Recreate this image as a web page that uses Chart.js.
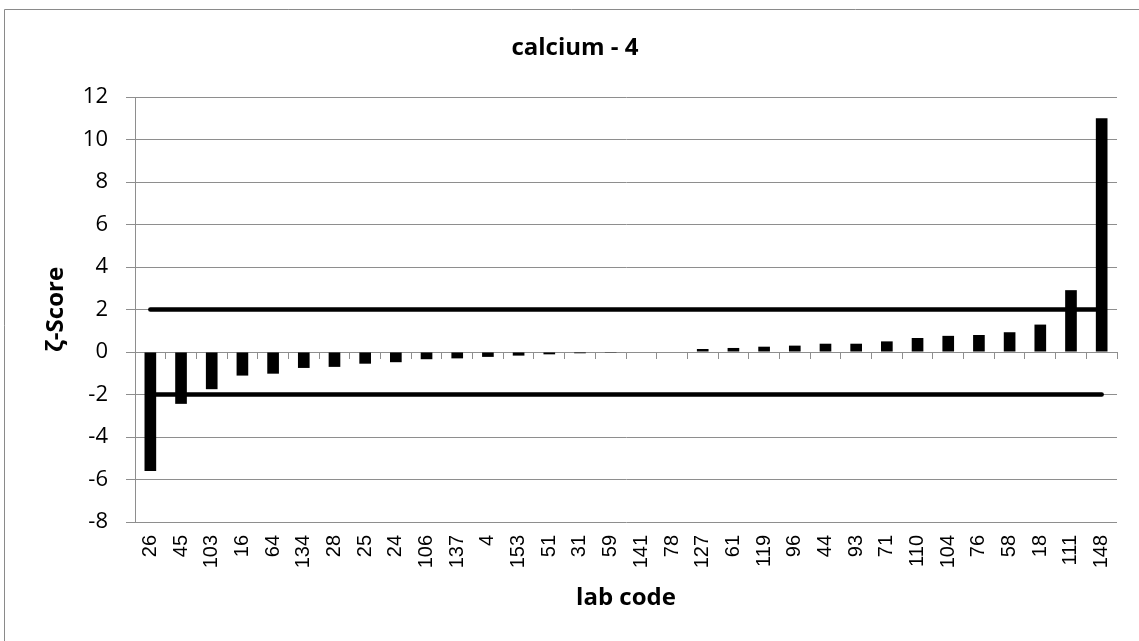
<!DOCTYPE html>
<html>
<head>
<meta charset="utf-8">
<title>calcium - 4</title>
<script src="https://cdn.jsdelivr.net/npm/chart.js@4/dist/chart.umd.min.js"></script>
<style>
    html, body { margin: 0; padding: 0; background: #ffffff; }
    canvas { display: block; }
</style>
</head>
<body>
<canvas id="zetaChart" width="1139" height="641"></canvas>
<script>
    // lab codes, sorted by score
    var labCodes = ["26", "45", "103", "16", "64", "134", "28", "25", "24", "106", "137", "4", "153", "51", "31", "59",
        "141", "78", "127", "61", "119", "96", "44", "93", "71", "110", "104", "76", "58", "18", "111", "148"];
    var zetaScores = [-5.6, -2.44, -1.75, -1.11, -1.02, -0.75, -0.70, -0.55, -0.48, -0.34, -0.30, -0.23, -0.17, -0.11, -0.06, -0.01,
        0, 0, 0.14, 0.19, 0.25, 0.30, 0.39, 0.39, 0.50, 0.66, 0.76, 0.80, 0.93, 1.29, 2.91, 11.0];
    var upperLimit = [2, 2, 2, 2, 2, 2, 2, 2, 2, 2, 2, 2, 2, 2, 2, 2, 2, 2, 2, 2, 2, 2, 2, 2, 2, 2, 2, 2, 2, 2, 2, 2];
    var lowerLimit = [-2, -2, -2, -2, -2, -2, -2, -2, -2, -2, -2, -2, -2, -2, -2, -2, -2, -2, -2, -2, -2, -2, -2, -2, -2, -2, -2, -2, -2, -2, -2, -2];
    var yMin = -8, yMax = 12, yStep = 2;

    var gridGray = '#8e8e8e';
    Chart.defaults.color = '#000000';

    // thin frame around the chart (only left/top are inside the picture)
    var framePlugin = {
        id: 'frame',
        beforeDraw: function (chart) {
            var ctx = chart.ctx;
            ctx.save();
            ctx.strokeStyle = '#8a8a8a';
            ctx.lineWidth = 1;
            ctx.beginPath();
            ctx.moveTo(4.5, chart.height);
            ctx.lineTo(4.5, 9.5);
            ctx.lineTo(chart.width, 9.5);
            ctx.stroke();
            ctx.restore();
        }
    };

    var zetaCanvas = document.getElementById("zetaChart");
    var zetaChart = new Chart(zetaCanvas, {
        type: 'bar',
        data: {
            labels: labCodes,
            datasets: [{
                    type: 'line',
                    data: upperLimit,
                    borderColor: '#000000',
                    borderWidth: 4.5,
                    borderCapStyle: 'round',
                    pointRadius: 0,
                    fill: false,
                    order: 0
                }, {
                    type: 'line',
                    data: lowerLimit,
                    borderColor: '#000000',
                    borderWidth: 4.5,
                    borderCapStyle: 'round',
                    pointRadius: 0,
                    fill: false,
                    order: 0
                }, {
                    type: 'bar',
                    data: zetaScores,
                    backgroundColor: '#000000',
                    borderWidth: 0,
                    barPercentage: 0.38,
                    categoryPercentage: 1.0,
                    order: 1
                }]
        },
        options: {
            responsive: false,
            animation: false,
            layout: {
                padding: { left: 32, right: 21, top: 10, bottom: 28 }
            },
            plugins: {
                legend: { display: false },
                tooltip: { enabled: false },
                title: {
                    display: true,
                    text: 'calcium - 4',
                    color: '#000000',
                    font: { family: 'Open Sans', size: 24, weight: 'bold', lineHeight: 1.2 },
                    padding: { top: 23.6, bottom: 34.6 }
                }
            },
            scales: {
                x: {
                    type: 'category',
                    position: 'bottom',
                    offset: true,
                    grid: { display: false, drawTicks: false },
                    border: { display: false },
                    ticks: {
                        autoSkip: false,
                        minRotation: 90,
                        maxRotation: 90,
                        padding: 13,
                        color: '#000000',
                        font: { family: 'Liberation Sans', size: 20 }
                    },
                    title: {
                        display: true,
                        text: 'lab code',
                        color: '#000000',
                        font: { family: 'Open Sans', size: 24, weight: 'bold', lineHeight: 1.2 },
                        padding: { top: 0, bottom: 0 }
                    },
                    afterFit: function (scale) { scale.height = 91; }
                },
                // category axis crossing at zero, tick marks only
                xZero: {
                    type: 'category',
                    position: { y: 0 },
                    offset: true,
                    grid: { offset: true, drawOnChartArea: false, drawTicks: true, tickLength: 6, color: gridGray },
                    border: { display: true, color: gridGray, width: 1 },
                    ticks: { display: false }
                },
                y: {
                    min: yMin,
                    max: yMax,
                    ticks: {
                        stepSize: yStep,
                        padding: 18,
                        color: '#000000',
                        font: { family: 'Open Sans', size: 22 }
                    },
                    grid: { color: gridGray, tickLength: 9, lineWidth: 1 },
                    border: { display: true, color: gridGray },
                    title: {
                        display: true,
                        text: 'ζ-Score',
                        color: '#000000',
                        font: { family: 'Open Sans', size: 24, weight: 'bold', lineHeight: 1.2 },
                        padding: { top: 10, bottom: 0 }
                    },
                    afterFit: function (scale) { scale.width = 103; }
                }
            }
        },
        plugins: [framePlugin]
    });
</script>
</body>
</html>
